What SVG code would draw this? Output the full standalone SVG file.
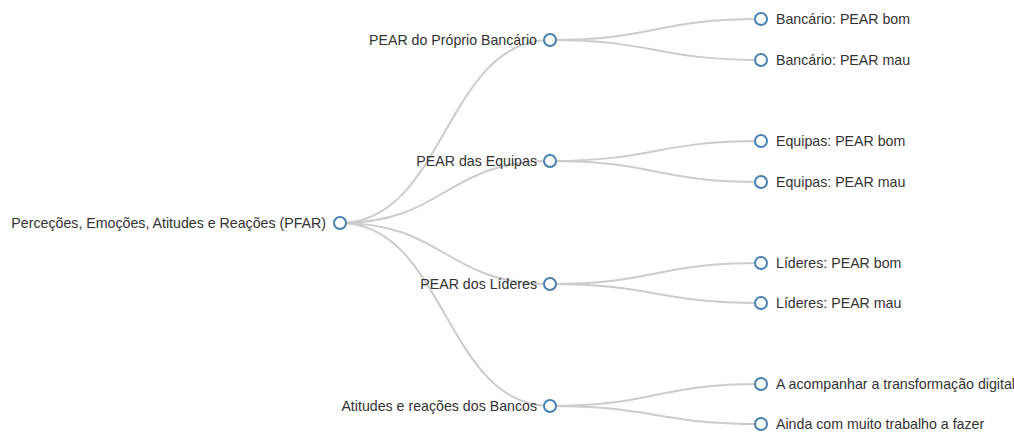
<svg xmlns="http://www.w3.org/2000/svg" width="1014" height="432" viewBox="0 0 1014 432">
<style>
.link{fill:none;stroke:#ccc;stroke-width:2}
.node circle{fill:#fff;stroke:#4682b4;stroke-width:2}
.node text{font-family:"Liberation Sans",Arial,sans-serif;font-size:14.2px;fill:#333}
.l{text-anchor:end}
</style>
<rect width="1014" height="432" fill="#fff"/>
<g id="links">
<path class="link" d="M340,223C445,223 445,40 550,40"/>
<path class="link" d="M340,223C445,223 445,161 550,161"/>
<path class="link" d="M340,223C445,223 445,284 550,284"/>
<path class="link" d="M340,223C445,223 445,406 550,406"/>
<path class="link" d="M550,40C655.5,40 655.5,19 761,19"/>
<path class="link" d="M550,40C655.5,40 655.5,60 761,60"/>
<path class="link" d="M550,161C655.5,161 655.5,141 761,141"/>
<path class="link" d="M550,161C655.5,161 655.5,182 761,182"/>
<path class="link" d="M550,284C655.5,284 655.5,263 761,263"/>
<path class="link" d="M550,284C655.5,284 655.5,303 761,303"/>
<path class="link" d="M550,406C655.5,406 655.5,384 761,384"/>
<path class="link" d="M550,406C655.5,406 655.5,424 761,424"/>
</g>
<g id="root" class="node"><circle cx="340" cy="223" r="6"/><text class="l" x="326" y="228">Perceções, Emoções, Atitudes e Reações (PFAR)</text></g>
<g id="n1" class="node"><circle cx="550" cy="40" r="6"/><text class="l" x="537" y="45">PEAR do Próprio Bancário</text></g>
<g id="n2" class="node"><circle cx="550" cy="161" r="6"/><text class="l" x="537" y="166">PEAR das Equipas</text></g>
<g id="n3" class="node"><circle cx="550" cy="284" r="6"/><text class="l" x="537" y="289">PEAR dos Líderes</text></g>
<g id="n4" class="node"><circle cx="550" cy="406" r="6"/><text class="l" x="537" y="411">Atitudes e reações dos Bancos</text></g>
<g id="n11" class="node"><circle cx="761" cy="19" r="6"/><text x="776" y="24">Bancário: PEAR bom</text></g>
<g id="n12" class="node"><circle cx="761" cy="60" r="6"/><text x="776" y="65">Bancário: PEAR mau</text></g>
<g id="n21" class="node"><circle cx="761" cy="141" r="6"/><text x="776" y="146">Equipas: PEAR bom</text></g>
<g id="n22" class="node"><circle cx="761" cy="182" r="6"/><text x="776" y="187">Equipas: PEAR mau</text></g>
<g id="n31" class="node"><circle cx="761" cy="263" r="6"/><text x="776" y="268">Líderes: PEAR bom</text></g>
<g id="n32" class="node"><circle cx="761" cy="303" r="6"/><text x="776" y="308">Líderes: PEAR mau</text></g>
<g id="n41" class="node"><circle cx="761" cy="384" r="6"/><text x="776" y="389">A acompanhar a transformação digital</text></g>
<g id="n42" class="node"><circle cx="761" cy="424" r="6"/><text x="776" y="429">Ainda com muito trabalho a fazer</text></g>
</svg>
